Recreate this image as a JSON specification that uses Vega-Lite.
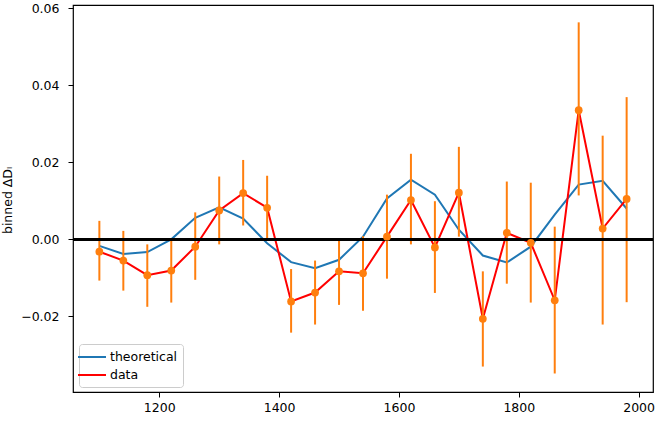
{
  "$schema": "https://vega.github.io/schema/vega-lite/v6.json",
  "width": 580,
  "height": 387,
  "autosize": {"type": "none"},
  "padding": {"left": 73, "top": 5, "right": 6, "bottom": 30},
  "background": "white",
  "config": {
    "font": "DejaVu Sans",
    "view": {"stroke": "black", "strokeWidth": 1.2},
    "axis": {
      "grid": false,
      "domain": false,
      "tickColor": "black",
      "tickSize": 5,
      "tickWidth": 1,
      "labelColor": "black",
      "labelFontSize": 12.5,
      "labelFont": "DejaVu Sans",
      "titleFont": "DejaVu Sans",
      "titleFontSize": 12.5,
      "titleFontWeight": "normal",
      "titleColor": "black"
    }
  },
  "data": {
    "values": [
      {"x": 1100, "theory": -0.0017, "data": -0.0032, "lo": -0.0107, "hi": 0.0048},
      {"x": 1140, "theory": -0.0038, "data": -0.0055, "lo": -0.0133, "hi": 0.0022},
      {"x": 1180, "theory": -0.0033, "data": -0.0093, "lo": -0.0175, "hi": -0.0013},
      {"x": 1220, "theory": 0.0000, "data": -0.0081, "lo": -0.0164, "hi": 0.0003},
      {"x": 1260, "theory": 0.0056, "data": -0.0019, "lo": -0.0105, "hi": 0.0070},
      {"x": 1300, "theory": 0.0083, "data": 0.0075, "lo": -0.0013, "hi": 0.0163},
      {"x": 1340, "theory": 0.0054, "data": 0.0120, "lo": 0.0036, "hi": 0.0206},
      {"x": 1380, "theory": -0.0010, "data": 0.0082, "lo": -0.0002, "hi": 0.0165},
      {"x": 1420, "theory": -0.0059, "data": -0.0161, "lo": -0.0242, "hi": -0.0077},
      {"x": 1460, "theory": -0.0075, "data": -0.0138, "lo": -0.0221, "hi": -0.0055},
      {"x": 1500, "theory": -0.0053, "data": -0.0083, "lo": -0.0170, "hi": 0.0003},
      {"x": 1540, "theory": 0.0007, "data": -0.0088, "lo": -0.0185, "hi": 0.0008},
      {"x": 1580, "theory": 0.0106, "data": 0.0007, "lo": -0.0102, "hi": 0.0116},
      {"x": 1620, "theory": 0.0155, "data": 0.0102, "lo": -0.0013, "hi": 0.0222},
      {"x": 1660, "theory": 0.0116, "data": -0.0021, "lo": -0.0139, "hi": 0.0099},
      {"x": 1700, "theory": 0.0025, "data": 0.0121, "lo": 0.0007, "hi": 0.0240},
      {"x": 1740, "theory": -0.0042, "data": -0.0206, "lo": -0.0330, "hi": -0.0083},
      {"x": 1780, "theory": -0.0060, "data": 0.0017, "lo": -0.0115, "hi": 0.0150},
      {"x": 1820, "theory": -0.0019, "data": -0.0009, "lo": -0.0164, "hi": 0.0147},
      {"x": 1860, "theory": 0.0064, "data": -0.0158, "lo": -0.0348, "hi": 0.0033},
      {"x": 1900, "theory": 0.0142, "data": 0.0335, "lo": 0.0114, "hi": 0.0563},
      {"x": 1940, "theory": 0.0152, "data": 0.0028, "lo": -0.0221, "hi": 0.0269},
      {"x": 1980, "theory": 0.0080, "data": 0.0105, "lo": -0.0163, "hi": 0.0369}
    ]
  },
  "encoding": {
    "x": {
      "field": "x",
      "type": "quantitative",
      "scale": {"domain": [1056, 2024], "nice": false, "zero": false},
      "axis": {"title": null, "values": [1200, 1400, 1600, 1800, 2000], "format": "d", "labelPadding": 4}
    }
  },
  "layer": [
    {
      "mark": {"type": "line", "strokeWidth": 2},
      "encoding": {
        "y": {
          "field": "theory",
          "type": "quantitative",
          "scale": {"domain": [-0.0396, 0.0608], "nice": false, "zero": false},
          "axis": {
            "title": "binned ΔDₗ",
            "values": [-0.02, 0, 0.02, 0.04, 0.06],
            "format": ".2f",
            "labelPadding": 9,
            "titleX": -59,
            "titleY": 195,
            "titleAngle": -90,
            "titleAlign": "center",
            "titleBaseline": "bottom"
          }
        },
        "color": {
          "datum": "theoretical",
          "type": "nominal",
          "scale": {"domain": ["theoretical", "data"], "range": ["#1f77b4", "red"]},
          "legend": {
            "title": null,
            "orient": "none",
            "legendX": 6,
            "legendY": 339,
            "direction": "vertical",
            "padding": 5,
            "strokeColor": "#cccccc",
            "fillColor": "white",
            "cornerRadius": 3,
            "symbolType": "M-2,0H2",
            "symbolStrokeWidth": 2,
            "symbolSize": 196,
            "labelFontSize": 12.5,
            "labelColor": "black",
            "labelOffset": 10,
            "rowPadding": 3
          }
        }
      }
    },
    {
      "mark": {"type": "line", "strokeWidth": 2},
      "encoding": {
        "y": {"field": "data", "type": "quantitative"},
        "color": {"datum": "data", "type": "nominal"}
      }
    },
    {
      "mark": {"type": "rule", "color": "#ff7f0e", "strokeWidth": 2},
      "encoding": {
        "y": {"field": "lo", "type": "quantitative"},
        "y2": {"field": "hi"}
      }
    },
    {
      "mark": {"type": "rule", "color": "black", "strokeWidth": 2},
      "encoding": {
        "y": {"datum": 0, "type": "quantitative"},
        "x": {"value": 0},
        "x2": {"value": 580}
      }
    },
    {
      "mark": {"type": "point", "filled": true, "color": "#ff7f0e", "opacity": 1, "size": 60},
      "encoding": {
        "y": {"field": "data", "type": "quantitative"}
      }
    }
  ]
}
